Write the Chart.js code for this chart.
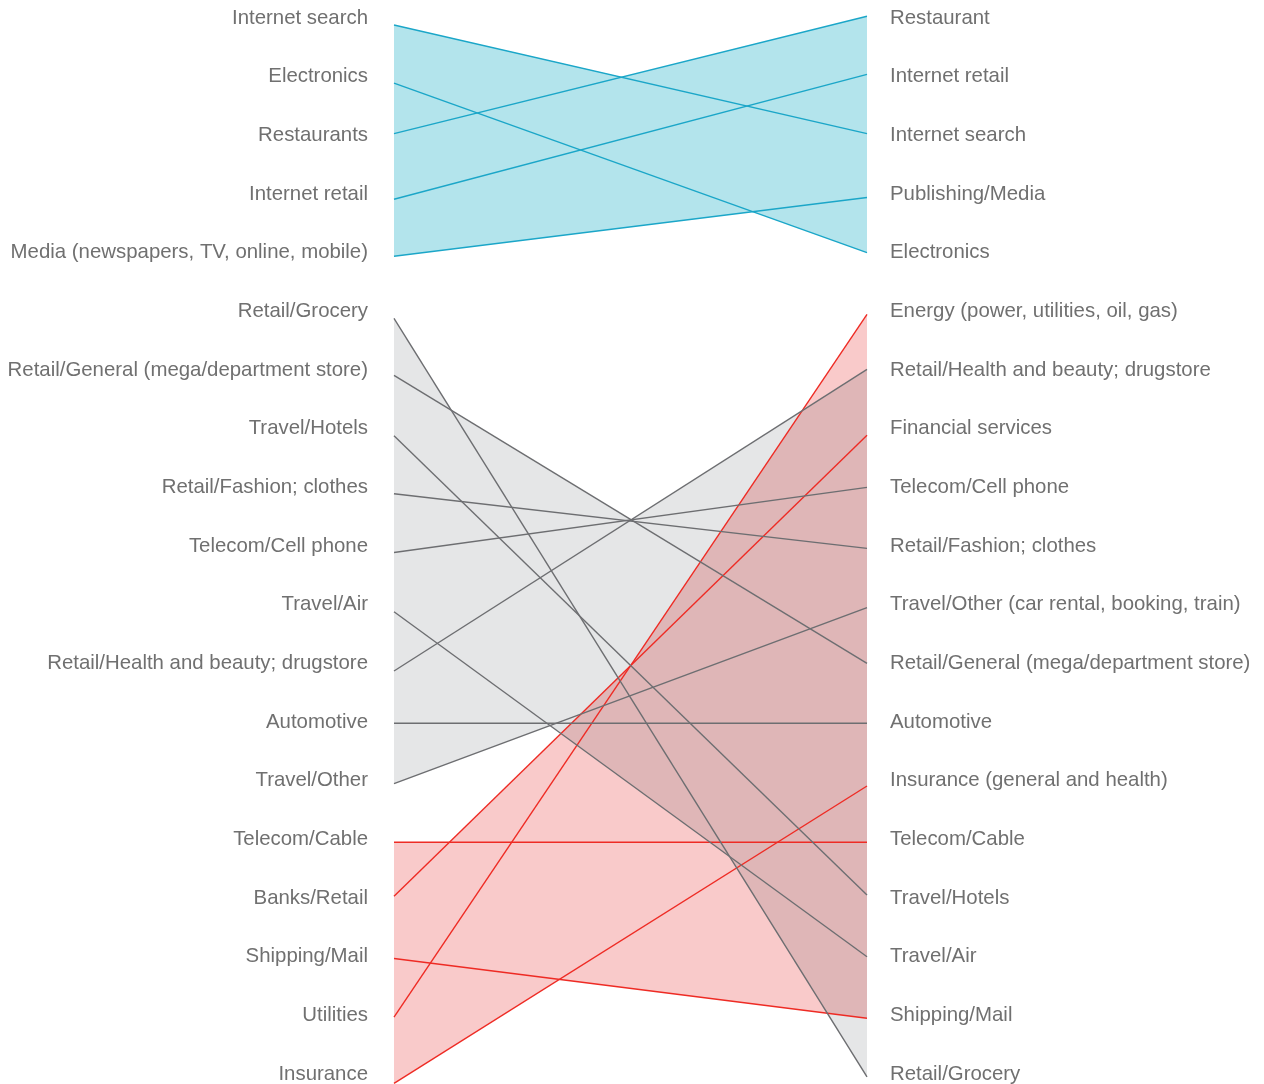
<!DOCTYPE html>
<html>
<head>
<meta charset="utf-8">
<title>Industry ranking shifts</title>
<script src="https://cdn.jsdelivr.net/npm/chart.js@4.4.1/dist/chart.umd.min.js"></script>
<style>
  html, body { margin: 0; padding: 0; background: #fff; }
  #stage { position: relative; width: 1264px; height: 1084px; }
  .layer { position: absolute; left: 0; top: 0; }
  /* pink band is multiplied so it tints the grey band where they overlap */
  #layer-red { mix-blend-mode: multiply; }
</style>
</head>
<body>
<div id="stage">
  <div class="layer"><canvas id="fillChart" width="1264" height="1084"></canvas></div>
  <div class="layer" id="layer-red"><canvas id="redChart" width="1264" height="1084"></canvas></div>
  <div class="layer"><canvas id="lineChart" width="1264" height="1084"></canvas></div>
</div>
<script>
const leftLabels = [
  'Internet search', 'Electronics', 'Restaurants', 'Internet retail',
  'Media (newspapers, TV, online, mobile)', 'Retail/Grocery',
  'Retail/General (mega/department store)', 'Travel/Hotels', 'Retail/Fashion; clothes',
  'Telecom/Cell phone', 'Travel/Air', 'Retail/Health and beauty; drugstore',
  'Automotive', 'Travel/Other', 'Telecom/Cable', 'Banks/Retail',
  'Shipping/Mail', 'Utilities', 'Insurance'
];
const rightLabels = [
  'Restaurant', 'Internet retail', 'Internet search', 'Publishing/Media', 'Electronics',
  'Energy (power, utilities, oil, gas)', 'Retail/Health and beauty; drugstore',
  'Financial services', 'Telecom/Cell phone', 'Retail/Fashion; clothes',
  'Travel/Other (car rental, booking, train)', 'Retail/General (mega/department store)',
  'Automotive', 'Insurance (general and health)', 'Telecom/Cable', 'Travel/Hotels',
  'Travel/Air', 'Shipping/Mail', 'Retail/Grocery'
];

// row positions (0 = top row) where each line starts (left) and ends (right)
const blueStart = [0.12, 1.11, 1.97, 3.09, 4.06];
const blueEnd   = [1.97, 4.00, -0.03, 0.96, 3.06];
const greyStart = [5.12, 6.09, 7.12, 8.11, 9.11, 10.12, 11.13, 12.02, 13.05];
const greyEnd   = [18.05, 11.00, 14.95, 9.04, 8.00, 16.00, 5.99, 12.02, 10.05];
const redStart  = [14.05, 14.97, 16.03, 17.03, 18.16];
const redEnd    = [14.05, 7.11, 17.05, 5.05, 13.09];

const blue = { start: blueStart, end: blueEnd, line: '#1ba6c8', fill: '#b3e4ec' };
const grey = { start: greyStart, end: greyEnd, line: '#6d6e71', fill: '#e5e6e7' };
const red  = { start: redStart, end: redEnd, line: '#ee2b24', fill: '#f9caca' };

// y range so that row 0 sits at 18px and row 18 at 1074px
const yMin = -0.307;
const yMax = 18.17;

function segment(g, i) {
    return [{ x: 0, y: g.start[i] }, { x: 1, y: g.end[i] }];
}

// every line of a group is filled to the group's first line,
// the union of those bands gives the envelope of the group
function fillSets(groups) {
    const sets = [];
    groups.forEach(g => {
        const base = sets.length;
        g.start.forEach((s, i) => {
            sets.push({
                data: segment(g, i),
                borderWidth: 0,
                pointRadius: 0,
                backgroundColor: g.fill,
                fill: i === 0 ? false : base,
                clip: false
            });
        });
    });
    return sets;
}

function lineSets(groups) {
    const sets = [];
    groups.forEach(g => {
        g.start.forEach((s, i) => {
            sets.push({
                data: segment(g, i),
                borderColor: g.line,
                borderWidth: 1.4,
                pointRadius: 0,
                fill: false,
                clip: false
            });
        });
    });
    return sets;
}

function buildScales(textColor) {
    const side = (position, labels, width, pad) => ({
        position: position,
        min: yMin,
        max: yMax,
        reverse: true,
        grid: { display: false, drawTicks: false },
        border: { display: false },
        afterBuildTicks: s => { s.ticks = labels.map((_, i) => ({ value: i })); },
        afterFit: s => {
            s.width = width;
            s.paddingTop = 0;
            s.paddingBottom = 0;
        },
        ticks: {
            autoSkip: false,
            padding: pad,
            color: textColor,
            font: { family: '"Liberation Sans", Arial, sans-serif', size: 20.4, lineHeight: 1 },
            callback: (v, i) => labels[i]
        }
    });
    return {
        x: { type: 'linear', display: false, min: 0, max: 1 },
        y: side('left', leftLabels, 394, 26),
        y2: side('right', rightLabels, 397, 23)
    };
}

function makeChart(id, datasets, textColor) {
    return new Chart(document.getElementById(id), {
        type: 'line',
        data: { datasets: datasets },
        options: {
            responsive: false,
            animation: false,
            layout: { padding: 0 },
            elements: { line: { tension: 0 } },
            plugins: {
                legend: { display: false },
                tooltip: { enabled: false },
                filler: { propagate: false }
            },
            scales: buildScales(textColor)
        }
    });
}

makeChart('fillChart', fillSets([blue, grey]), 'rgba(0,0,0,0)');
makeChart('redChart', fillSets([red]), 'rgba(0,0,0,0)');
makeChart('lineChart', lineSets([blue, grey, red]), '#707070');
</script>
</body>
</html>
